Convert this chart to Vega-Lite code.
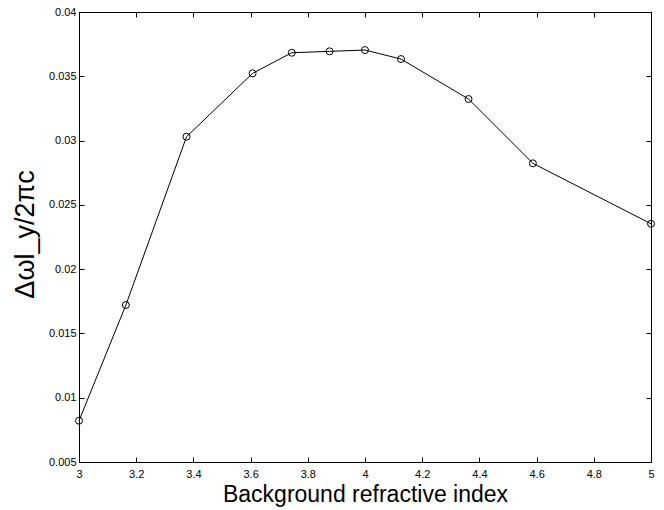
{
  "$schema": "https://vega.github.io/schema/vega-lite/v6.json",
  "width": 572,
  "height": 450,
  "autosize": {"type": "none"},
  "padding": {"left": 79, "top": 12, "right": 13, "bottom": 48},
  "background": "white",
  "config": {
    "font": "Liberation Sans",
    "view": {"stroke": "black", "strokeWidth": 1},
    "axis": {
      "grid": false,
      "domainColor": "black",
      "domainWidth": 1,
      "tickColor": "black",
      "tickWidth": 1,
      "tickSize": -5,
      "labelColor": "black",
      "labelFont": "Liberation Sans",
      "labelFontSize": 11,
      "labelFlush": false,
      "labelOverlap": false,
      "labelBound": false,
      "format": "~g",
      "titleColor": "black",
      "titleFont": "Liberation Sans",
      "titleFontWeight": "normal"
    }
  },
  "data": {
    "values": [
      {"n": 3.0, "dw": 0.00821},
      {"n": 3.164, "dw": 0.01721},
      {"n": 3.376, "dw": 0.0303},
      {"n": 3.607, "dw": 0.03523},
      {"n": 3.744, "dw": 0.03683},
      {"n": 3.876, "dw": 0.03694},
      {"n": 4.0, "dw": 0.03704},
      {"n": 4.126, "dw": 0.03634},
      {"n": 4.362, "dw": 0.03323},
      {"n": 4.587, "dw": 0.02823},
      {"n": 5.0, "dw": 0.02353}
    ]
  },
  "resolve": {"axis": {"x": "independent", "y": "independent"}},
  "layer": [
    {
      "mark": {"type": "line", "color": "black", "strokeWidth": 1},
      "encoding": {
        "x": {
          "field": "n", "type": "quantitative",
          "scale": {"domain": [3, 5], "nice": false, "zero": false},
          "axis": {
            "orient": "bottom",
            "values": [3, 3.2, 3.4, 3.6, 3.8, 4, 4.2, 4.4, 4.6, 4.8, 5],
            "format": "~g",
            "labelPadding": 11,
            "title": "Background refractive index",
            "titleFontSize": 23,
            "titleBaseline": "alphabetic",
            "titleY": 39
          }
        },
        "y": {
          "field": "dw", "type": "quantitative",
          "scale": {"domain": [0.005, 0.04], "nice": false, "zero": false},
          "axis": {
            "orient": "left",
            "values": [0.005, 0.01, 0.015, 0.02, 0.025, 0.03, 0.035, 0.04],
            "format": "~g",
            "labelPadding": 8,
            "title": "Δωl_y/2πc",
            "titleFontSize": 27,
            "titleX": -40,
            "titleY": 222
          }
        }
      }
    },
    {
      "mark": {"type": "point", "shape": "circle", "filled": false, "stroke": "black", "strokeWidth": 1, "size": 49, "opacity": 1},
      "encoding": {
        "x": {"field": "n", "type": "quantitative",
          "axis": {"orient": "top", "labels": false, "title": null, "values": [3, 3.2, 3.4, 3.6, 3.8, 4, 4.2, 4.4, 4.6, 4.8, 5]}},
        "y": {"field": "dw", "type": "quantitative",
          "axis": {"orient": "right", "labels": false, "title": null, "values": [0.005, 0.01, 0.015, 0.02, 0.025, 0.03, 0.035, 0.04]}}
      }
    }
  ]
}
